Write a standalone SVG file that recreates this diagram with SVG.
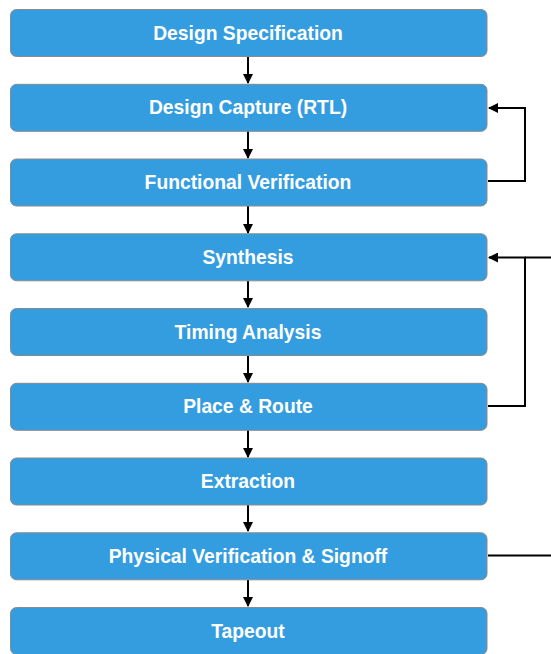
<svg xmlns="http://www.w3.org/2000/svg" width="551" height="654" viewBox="0 0 551 654">
<defs>
<style>
.box{fill:#349ddf;stroke:#8a8a8a;stroke-width:1}
.lbl{fill:#ffffff;font-family:"Liberation Sans",Arial,sans-serif;font-weight:bold;font-size:19.3px;text-anchor:middle}
.ln{fill:none;stroke:#000;stroke-width:2}
</style>
<marker id="ah" viewBox="0 0 10 10" refX="9" refY="5" markerWidth="5" markerHeight="5" orient="auto" markerUnits="strokeWidth">
<path d="M0,0 L10,5 L0,10 z" fill="#000"/>
</marker>
</defs>
<g id="connectors">
<line class="ln" x1="248" y1="57" x2="248" y2="83" marker-end="url(#ah)"/>
<line class="ln" x1="248" y1="131" x2="248" y2="158" marker-end="url(#ah)"/>
<line class="ln" x1="248" y1="206" x2="248" y2="233" marker-end="url(#ah)"/>
<line class="ln" x1="248" y1="281" x2="248" y2="307" marker-end="url(#ah)"/>
<line class="ln" x1="248" y1="355" x2="248" y2="382" marker-end="url(#ah)"/>
<line class="ln" x1="248" y1="430" x2="248" y2="457" marker-end="url(#ah)"/>
<line class="ln" x1="248" y1="505" x2="248" y2="531" marker-end="url(#ah)"/>
<line class="ln" x1="248" y1="580" x2="248" y2="606" marker-end="url(#ah)"/>
<polyline class="ln" points="488,181 525,181 525,108 489,108" marker-end="url(#ah)"/>
<polyline class="ln" points="488,406 525,406 525,257.5 489,257.5" marker-end="url(#ah)"/>
<line class="ln" x1="525" y1="257.5" x2="551" y2="257.5"/>
<line class="ln" x1="488" y1="555.5" x2="551" y2="555.5"/>
</g>
<g id="n1"><rect class="box" x="10.5" y="9.5" width="476.5" height="47" rx="6"/><text class="lbl" x="248" y="39.5">Design Specification</text></g>
<g id="n2"><rect class="box" x="10.5" y="84.3" width="476.5" height="47" rx="6"/><text class="lbl" x="248" y="114.3">Design Capture (RTL)</text></g>
<g id="n3"><rect class="box" x="10.5" y="159" width="476.5" height="47" rx="6"/><text class="lbl" x="248" y="189">Functional Verification</text></g>
<g id="n4"><rect class="box" x="10.5" y="233.8" width="476.5" height="47" rx="6"/><text class="lbl" x="248" y="263.8">Synthesis</text></g>
<g id="n5"><rect class="box" x="10.5" y="308.5" width="476.5" height="47" rx="6"/><text class="lbl" x="248" y="338.5">Timing Analysis</text></g>
<g id="n6"><rect class="box" x="10.5" y="383.3" width="476.5" height="47" rx="6"/><text class="lbl" x="248" y="413.3">Place &amp; Route</text></g>
<g id="n7"><rect class="box" x="10.5" y="458" width="476.5" height="47" rx="6"/><text class="lbl" x="248" y="488">Extraction</text></g>
<g id="n8"><rect class="box" x="10.5" y="532.8" width="476.5" height="47" rx="6"/><text class="lbl" x="248" y="562.8">Physical Verification &amp; Signoff</text></g>
<g id="n9"><rect class="box" x="10.5" y="607.5" width="476.5" height="47" rx="6"/><text class="lbl" x="248" y="637.5">Tapeout</text></g>
</svg>
